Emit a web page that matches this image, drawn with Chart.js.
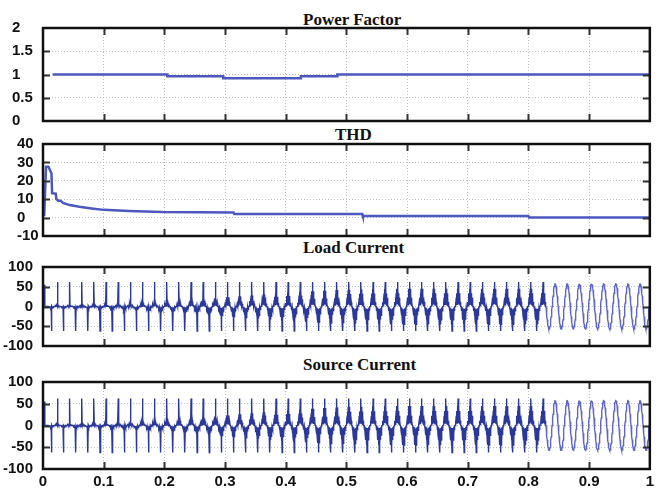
<!DOCTYPE html>
<html>
<head>
<meta charset="utf-8">
<script src="https://cdn.jsdelivr.net/npm/chart.js@4.4.0/dist/chart.umd.min.js"></script>
<style>
  html, body { margin:0; padding:0; background:#fff; }
  #wrap { position:relative; width:658px; height:492px; overflow:hidden; background:#fff; }
  #wrap canvas { position:absolute; left:0; }
  .ttl { position:absolute; font:bold 17px "Liberation Serif","Times New Roman",serif; line-height:17px; color:#111; white-space:nowrap; }
</style>
</head>
<body>
<div id="wrap">
  <div class="ttl" style="left:303px;top:11px">Power Factor</div>
  <div class="ttl" style="left:335px;top:126px">THD</div>
  <div class="ttl" style="left:303px;top:239px">Load Current</div>
  <div class="ttl" style="left:303px;top:356px">Source Current</div>
  <canvas id="c-pf"></canvas>
  <canvas id="c-thd"></canvas>
  <canvas id="c-load"></canvas>
  <canvas id="c-src"></canvas>
</div>
<script>
// ─── Data ─────────────────────────────────────────────────────────────────────
const xTickLabels = ['0','0.1','0.2','0.3','0.4','0.5','0.6','0.7','0.8','0.9','1'];

// power factor, step trace (time s, value)
const pfTime  = [0.016, 0.205, 0.205, 0.297, 0.297, 0.425, 0.425, 0.485, 0.485, 1.0];
const pfValue = [1.0,   1.0,   0.96,  0.96,  0.92,  0.92,  0.96,  0.96,  1.0,   1.0];

// THD trace (time s, %)
const thdTime  = [0, 0.002, 0.005, 0.009, 0.014, 0.015, 0.021, 0.022, 0.025, 0.029, 0.033, 0.044,
                  0.06, 0.08, 0.1, 0.142, 0.197, 0.314, 0.315, 0.526, 0.527, 0.800, 0.801, 1.0];
const thdValue = [1.4, 1.4, 27.6, 27.6, 24, 13.3, 13, 10, 9.2, 9.2, 8, 6.8,
                  5.9, 5, 4.2, 3.6, 3.0, 2.8, 2.0, 2.0, 0.9, 0.9, 0.1, 0.1];

// currents: 50 Hz cycles, first zero crossing at 9 ms
const cyclePeriod = 0.02;
const firstCross  = 0.009;
const leadTime  = [0, 0.002, 0.003, 0.009];
const leadValue = [0, 55, 0, 0];

// per cycle: lobe amplitude, spike tip, inner ripple (1 = clean sine)
const loadBody = [
  4, 4, 5, 5, 6,       7, 8, 10, 12, 14,
  17, 20, 23, 26, 29,  32, 35, 38, 41, 44,
  46, 48, 50, 52, 53,  54, 55, 55, 56, 56,
  56, 56, 56, 56, 56,  56, 56, 56, 56, 56,
  56, 57, 57, 57, 57,  57, 57, 57, 57, 57
];
const loadPeak = [
  62, 62, 62, 62, 62,  62, 62, 62, 62, 62,
  62, 62, 62, 62, 62,  62, 62, 62, 62, 62,
  62, 62, 62, 62, 62,  62, 62, 62, 62, 62,
  62, 62, 62, 62, 62,  62, 62, 62, 62, 62,
  62, 57, 57, 57, 57,  57, 57, 57, 57, 57
];
const loadRipple = [
  .15, .15, .15, .15, .15,  .15, .15, .15, .15, .15,
  .15, .15, .15, .15, .15,  .15, .15, .15, .15, .15,
  .15, .15, .15, .15, .15,  .15, .15, .15, .15, .15,
  .15, .15, .15, .15, .15,  .15, .15, .15, .15, .15,
  .15, 1, 1, 1, 1,          1, 1, 1, 1, 1
];

const sourceBody = [
  4, 4, 5, 5, 6,       7, 8, 10, 12, 14,
  17, 20, 23, 26, 29,  32, 35, 38, 41, 44,
  46, 48, 50, 52, 53,  54, 55, 55, 56, 56,
  56, 56, 56, 56, 56,  56, 56, 56, 56, 56,
  56, 57, 57, 57, 57,  57, 57, 57, 57, 57
];
const sourcePeak = [
  62, 62, 62, 62, 62,  62, 62, 62, 62, 62,
  62, 62, 62, 62, 62,  62, 62, 62, 62, 62,
  62, 62, 62, 62, 62,  62, 62, 62, 62, 62,
  62, 62, 62, 62, 62,  62, 62, 62, 62, 62,
  62, 57, 57, 57, 57,  57, 57, 57, 57, 57
];
const sourceRipple = loadRipple.slice();

// ─── Styling ─────────────────────────────────────────────────────────────────
const TRACE     = '#4d57bd';
const WAVE_DARK = '#2b3898';
const WAVE_LITE = '#5f66c6';
const GRID      = '#c2c2c2';
const TICK_FONT = { family:'"Liberation Sans", Arial, sans-serif', size:15, weight:'bold' };

// half-cycle vertex templates (shape only); the centre vertex carries the spike tip
const LOBE_SHAPE = [0, .1, .2, .3, .4, .5, .6, .7, .8, .9, 1, .9, .8, .7, .6, .5, .4, .3, .2, .1];
const SINE_SHAPE = [0, .156, .309, .454, .588, .707, .809, .891, .951, .988, 1, .988, .951, .891, .809, .707, .588, .454, .309, .156];

function buildWave(body, peak, ripple) {
  const pts = leadTime.map((t, i) => ({ x:t, y:leadValue[i] }));
  let cleanIdx = Infinity;
  const half = cyclePeriod / 2;
  body.forEach((b, k) => {
    const clean = ripple[k] === 1;
    if (clean && cleanIdx === Infinity) cleanIdx = pts.length;
    const shape = clean ? SINE_SHAPE : LOBE_SHAPE;
    const mid = shape.length / 2;
    for (let h = 0; h < 2; h++) {
      const sign = h === 0 ? -1 : 1;
      const t0 = firstCross + k * cyclePeriod + h * half;
      shape.forEach((s, i) => {
        const mag = i === mid ? peak[k] : b * s * (i % 2 ? ripple[k] : 1);
        pts.push({ x: t0 + i / shape.length * half, y: sign * mag });
      });
    }
  });
  return { pts, cleanIdx };
}

// ─── Frame: box + inward MATLAB-style ticks ─────────────────────────────────
const framePlugin = {
  id: 'frame',
  afterDatasetsDraw(chart) {
    const { ctx, chartArea: a, scales: { x, y } } = chart;
    ctx.save();
    ctx.strokeStyle = '#333';
    ctx.lineWidth = 2;
    ctx.beginPath();
    x.ticks.forEach(t => {
      if (t.value <= x.min || t.value >= x.max) return;
      const px = Math.round(x.getPixelForValue(t.value)) + 0.5;
      ctx.moveTo(px, a.top); ctx.lineTo(px, a.top + 7);
      ctx.moveTo(px, a.bottom); ctx.lineTo(px, a.bottom - 7);
    });
    y.ticks.forEach(t => {
      if (t.value <= y.min || t.value >= y.max) return;
      const py = Math.round(y.getPixelForValue(t.value)) + 0.5;
      ctx.moveTo(a.left, py); ctx.lineTo(a.left + 7, py);
      ctx.moveTo(a.right, py); ctx.lineTo(a.right - 7, py);
    });
    ctx.stroke();
    ctx.strokeStyle = '#111';
    ctx.lineWidth = 2.5;
    ctx.strokeRect(a.left, a.top, a.right - a.left, a.bottom - a.top);
    ctx.restore();
  }
};

// ─── Panels ──────────────────────────────────────────────────────────────────
function makePanel(id, p, datasets) {
  const cv = document.getElementById(id);
  const h = (p.bottom - p.top) + 12 + (p.showX ? 492 - p.bottom : 12);
  cv.width = 658; cv.height = h;
  cv.style.top = (p.top - 12) + 'px';
  return new Chart(cv.getContext('2d'), {
    type: 'line',
    data: { datasets },
    plugins: [framePlugin],
    options: {
      responsive: false,
      animation: false,
      events: [],
      layout: { padding: { left: p.padLeft, right: 3, top: 12, bottom: p.showX ? 0 : 12 } },
      plugins: { legend: { display:false }, tooltip: { enabled:false } },
      elements: { point: { radius:0 }, line: { tension:0 } },
      scales: {
        x: {
          type: 'linear', min: 0, max: 1,
          afterFit: s => { s.height = p.showX ? 492 - p.bottom : 0; },
          afterBuildTicks: s => { s.ticks = xTickLabels.map(l => ({ value: parseFloat(l) })); },
          grid: { color: GRID, lineWidth: 1, drawTicks: false },
          border: { display: false, dash: [1, 2] },
          ticks: {
            display: p.showX, padding: 4, color: '#111', font: TICK_FONT, maxRotation: 0, autoSkip: false,
            callback: (v, i) => xTickLabels[i]
          }
        },
        y: {
          min: p.yMin, max: p.yMax,
          afterFit: s => { s.width = 43 - p.padLeft; },
          afterBuildTicks: s => { s.ticks = p.yTicks.map(v => ({ value: v })); },
          grid: { color: GRID, lineWidth: 1, drawTicks: false },
          border: { display: false, dash: [1, 2] },
          ticks: {
            color: '#111', font: TICK_FONT, padding: p.tickPad, crossAlign: p.crossAlign, autoSkip: false,
            callback: v => String(v)
          }
        }
      }
    }
  });
}

function traceSet(times, values) {
  return { data: times.map((t, i) => ({ x:t, y:values[i] })), borderColor: TRACE, borderWidth: 2.5,
           fill: false, pointRadius: 0 };
}
function waveSet(w) {
  return { data: w.pts, borderColor: WAVE_DARK, borderWidth: 1.4, fill: false, pointRadius: 0,
           segment: { borderColor: c => c.p0DataIndex >= w.cleanIdx ? WAVE_LITE : WAVE_DARK } };
}

makePanel('c-pf',  { top:28,  bottom:121, padLeft:12, crossAlign:'far',  tickPad:0,  yMin:0,    yMax:2,   yTicks:[0,0.5,1,1.5,2] },
          [traceSet(pfTime, pfValue)]);
makePanel('c-thd', { top:144, bottom:236, padLeft:17, crossAlign:'far',  tickPad:0,  yMin:-10,  yMax:40,  yTicks:[-10,0,10,20,30,40] },
          [traceSet(thdTime, thdValue)]);
makePanel('c-load',{ top:260, bottom:353, padLeft:0,  crossAlign:'near', tickPad:10, yMin:-100, yMax:100, yTicks:[-100,-50,0,50,100] },
          [waveSet(buildWave(loadBody, loadPeak, loadRipple))]);
makePanel('c-src', { top:375, bottom:469, padLeft:0,  crossAlign:'near', tickPad:10, yMin:-100, yMax:100, yTicks:[-100,-50,0,50,100], showX:true },
          [waveSet(buildWave(sourceBody, sourcePeak, sourceRipple))]);
</script>
</body>
</html>
